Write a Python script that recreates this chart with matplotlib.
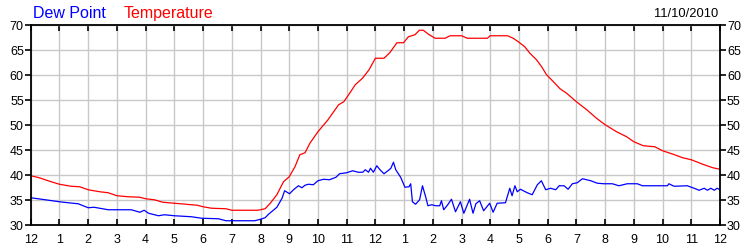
import numpy as np
import matplotlib
matplotlib.use("Agg")
import matplotlib.pyplot as plt

plt.rcParams['font.family'] = ['Liberation Sans', 'DejaVu Sans']

# Temperature (F), hours since midnight
temp_hours = [0, 0.3, 0.6, 1.0, 1.4, 1.7, 2.0, 2.4, 2.7, 3.0, 3.4, 3.8, 4.0, 4.3,
              4.6, 5.0, 5.4, 5.8, 6.0, 6.3, 6.8, 7.0, 7.5, 7.9, 8.0, 8.16, 8.34,
              8.57, 8.8, 9.0, 9.2, 9.37, 9.55, 9.72, 10.0, 10.35, 10.72, 10.9,
              11.07, 11.3, 11.55, 11.78, 12.0, 12.3, 12.5, 12.75, 12.98, 13.15,
              13.38, 13.53, 13.67, 13.85, 14.08, 14.43, 14.6, 15.0, 15.2, 15.9,
              16.0, 16.6, 16.8, 17.0, 17.2, 17.38, 17.61, 17.79, 17.96, 18.2,
              18.43, 18.66, 19.0, 19.36, 19.7, 20.0, 20.4, 20.75, 21.0, 21.33,
              21.73, 22.0, 22.37, 22.7, 23.0, 23.4, 23.75, 24.0]
temp_vals = [39.9, 39.5, 38.9, 38.2, 37.8, 37.7, 37.1, 36.7, 36.5, 35.9, 35.7, 35.6,
             35.3, 35.1, 34.6, 34.4, 34.2, 34.0, 33.7, 33.4, 33.3, 33.0, 33.0, 33.0,
             33.1, 33.3, 34.4, 36.1, 38.7, 39.7, 41.7, 44.1, 44.5, 46.4, 48.7, 51.1,
             54.1, 54.7, 56.1, 58.1, 59.4, 61.1, 63.4, 63.4, 64.5, 66.5, 66.5, 67.7,
             68.1, 69.0, 69.0, 68.2, 67.4, 67.4, 67.9, 67.9, 67.4, 67.4, 67.9, 67.9,
             67.4, 66.6, 65.7, 64.4, 63.1, 61.7, 60.1, 58.7, 57.3, 56.4, 54.7, 53.1,
             51.4, 50.1, 48.7, 47.7, 46.7, 45.9, 45.7, 44.9, 44.2, 43.5, 43.1, 42.2,
             41.5, 41.2]

# Dew point (F)
dew_hours = [0, 0.5, 1.0, 1.3, 1.65, 2.0, 2.2, 2.7, 3.5, 3.8, 3.95, 4.1, 4.45, 4.65,
             5.0, 5.6, 5.95, 6.53, 6.8, 7.8, 8.0, 8.16, 8.28, 8.57, 8.75, 8.84,
             9.01, 9.15, 9.32, 9.44, 9.55, 9.67, 9.84, 10.0, 10.2, 10.4, 10.63,
             10.75, 11.0, 11.21, 11.4, 11.56, 11.65, 11.76, 11.83, 11.93, 12.05,
             12.16, 12.3, 12.48, 12.54, 12.63, 12.71, 12.88, 13.03, 13.17, 13.23,
             13.29, 13.4, 13.54, 13.64, 13.75, 13.83, 13.96, 14.1, 14.24, 14.3,
             14.38, 14.52, 14.65, 14.79, 14.96, 15.08, 15.28, 15.4, 15.5, 15.63,
             15.77, 15.98, 16.1, 16.24, 16.53, 16.68, 16.76, 16.86, 16.94, 17.05,
             17.29, 17.46, 17.64, 17.78, 17.93, 18.1, 18.28, 18.4, 18.57, 18.71,
             18.86, 19.03, 19.21, 19.5, 19.73, 19.96, 20.25, 20.48, 20.77, 21.12,
             21.3, 21.7, 22.17, 22.22, 22.4, 22.86, 23.1, 23.27, 23.45, 23.56,
             23.68, 23.8, 23.9, 24.0]
dew_vals = [35.5, 35.1, 34.7, 34.5, 34.3, 33.5, 33.6, 33.1, 33.1, 32.6, 33.0, 32.4,
            31.9, 32.1, 31.9, 31.7, 31.4, 31.3, 30.9, 30.9, 31.2, 31.5, 32.2, 33.6,
            35.4, 36.9, 36.3, 37.1, 37.9, 37.5, 38.0, 38.2, 38.1, 38.9, 39.2, 39.1,
            39.6, 40.3, 40.5, 40.9, 40.6, 40.6, 41.1, 40.6, 41.4, 40.6, 41.9, 41.1,
            40.3, 41.1, 41.4, 42.6, 41.1, 39.6, 37.6, 37.7, 38.3, 34.7, 34.2, 35.1,
            37.9, 35.7, 33.9, 34.1, 33.9, 33.9, 34.9, 33.1, 34.1, 35.2, 32.7, 34.7,
            32.4, 35.2, 32.4, 34.3, 34.9, 32.9, 34.4, 32.6, 34.4, 34.5, 37.4, 35.9,
            37.9, 36.7, 37.2, 36.5, 36.1, 38.1, 38.9, 37.1, 37.4, 37.1, 37.9, 37.9,
            37.2, 38.3, 38.5, 39.3, 38.9, 38.4, 38.3, 38.3, 37.9, 38.3, 38.3, 37.9,
            37.9, 37.9, 38.3, 37.8, 37.9, 37.4, 37.0, 37.4, 37.0, 37.4, 37.0, 37.4,
            37.1]

hour_labels = ['12', '1', '2', '3', '4', '5', '6', '7', '8', '9', '10', '11',
               '12', '1', '2', '3', '4', '5', '6', '7', '8', '9', '10', '11', '12']
date_label = "11/10/2010"


fig = plt.figure(figsize=(7.5, 2.5), dpi=100)
ax = fig.add_axes([0.041, 0.099, 0.919, 0.800])

ax.plot(temp_hours, temp_vals, color='#ff0000', lw=0.9)
ax.plot(dew_hours, dew_vals, color='#0000ff', lw=0.9)

ax.set_xlim(0, 24)
ax.set_ylim(30, 70)
ax.set_xticks(np.arange(25))
ax.set_xticklabels(hour_labels)
ax.set_yticks(np.arange(30, 71, 5))

ax.grid(True, color='#c8c8c8', lw=1.0)
ax.set_axisbelow(True)

for s in ax.spines.values():
    s.set_linewidth(1.3)
    s.set_color('black')

ax.tick_params(axis='x', direction='in', length=4, width=1.2, top=True,
               bottom=True, labelsize=9, pad=6)
ax.tick_params(axis='y', direction='out', length=4, width=1.2, left=True,
               right=True, labelleft=True, labelright=True, labelsize=9, pad=1)

fig.text(33 / 750, 1 - 18 / 250, "Dew Point", color='#0000ff', fontsize=11.5,
         va='baseline', ha='left')
fig.text(124 / 750, 1 - 18 / 250, "Temperature", color='#ff0000', fontsize=11.5,
         va='baseline', ha='left')
fig.text(718 / 750, 1 - 17 / 250, date_label, color='black', fontsize=9.3,
         va='baseline', ha='right')

fig.savefig("out.png", dpi=100)
